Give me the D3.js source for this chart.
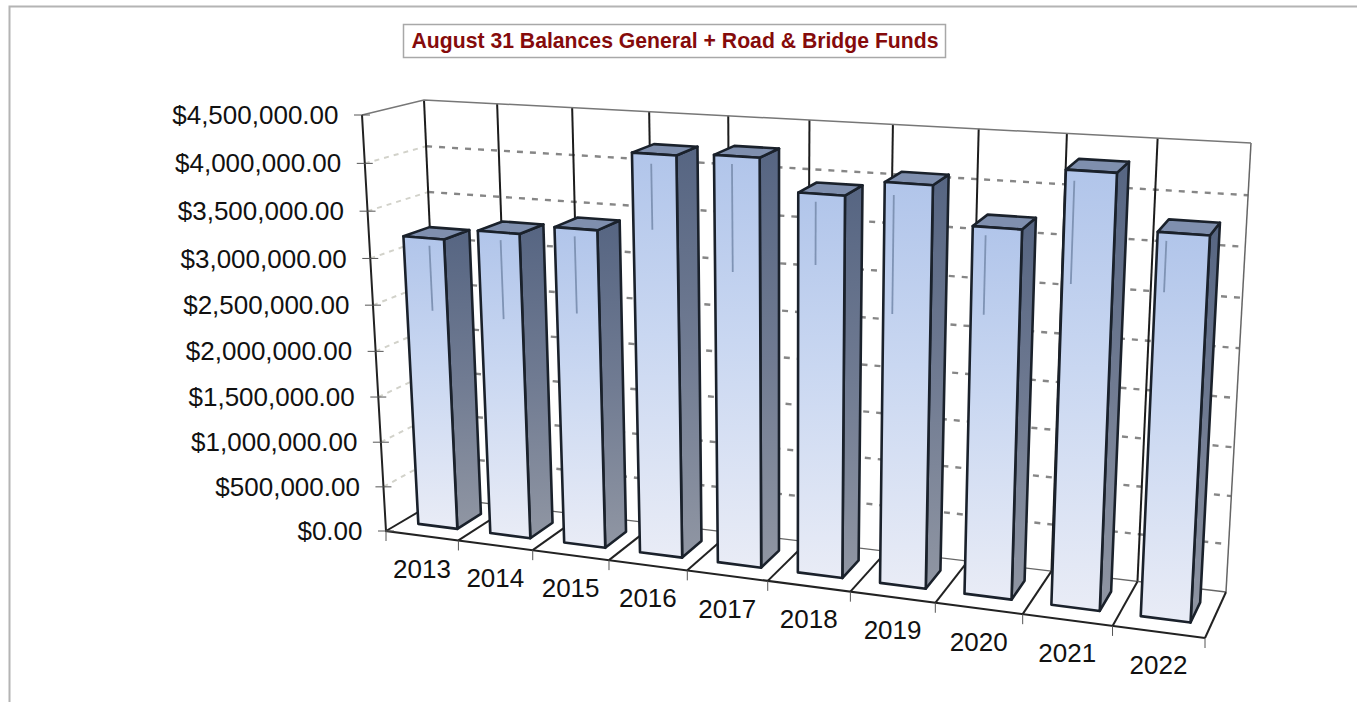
<!DOCTYPE html>
<html>
<head>
<meta charset="utf-8">
<style>
  html, body { margin: 0; padding: 0; background: #fff; }
  svg { display: block; }
  text { font-family: "Liberation Sans", Arial, sans-serif; fill: #111; }
</style>
</head>
<body>
<svg id="chart" width="1357" height="702"></svg>
<script src="https://cdn.jsdelivr.net/npm/d3@7"></script>
<script>
var years = [2013, 2014, 2015, 2016, 2017, 2018, 2019, 2020, 2021, 2022];
var balances = [3190000, 3310000, 3410000, 4230000, 4260000, 3940000, 4100000, 3730000, 4330000, 3800000];
// the thin grey streaks on the front of each bar
var streakTop = [3110000, 3230000, 3330000, 4130000, 4180000, 3860000, 3980000, 3650000, 4230000, 3720000];
var streakBottom = [2410000, 2390000, 2520000, 3460000, 3090000, 3230000, 2800000, 2870000, 3240000, 3230000];
var streakPos = [0.58, 0.53, 0.49, 0.47, 0.45, 0.44, 0.34, 0.38, 0.33, 0.33];
var valueTicks = [0, 500000, 1000000, 1500000, 2000000, 2500000, 3000000, 3500000, 4000000, 4500000];

var svg = d3.select("#chart");
var title = "August 31 Balances General + Road & Bridge Funds";

// Corners of the 3D box, as [x, y] on the page. f/b = front/back, l/r = left/right, 0/1 = floor/top
var box = {
  fl0: [386, 531], fr0: [1205, 638], bl0: [442, 498], br0: [1226, 592],
  fl1: [362, 115], fr1: [1229, 169], bl1: [424, 100], br1: [1251, 143]
};

// perspective squeeze along one axis
function warp(t, k) {
  return k * t / (1 + (k - 1) * t);
}

var xScale = d3.scaleLinear().domain([0, years.length]).range([0, 1]);
var yScale = d3.scaleLinear().domain([0, 4500000]).range([0, 1]);
var lerp = d3.interpolateNumber;

// i = category position, v = dollars, w = depth 0..1
function project(i, v, w) {
  var u = warp(xScale(i), 0.873);
  var t = warp(yScale(v), 0.95);
  function mix(k) {
    var f0 = lerp(box.fl0[k], box.fr0[k])(u), f1 = lerp(box.fl1[k], box.fr1[k])(u);
    var b0 = lerp(box.bl0[k], box.br0[k])(u), b1 = lerp(box.bl1[k], box.br1[k])(u);
    return lerp(lerp(f0, f1)(t), lerp(b0, b1)(t))(w);
  }
  return [mix(0), mix(1)];
}

var line = d3.line();
var n = years.length;
var maxValue = valueTicks[valueTicks.length - 1];
var money = d3.format("$,.2f");

// page frame
svg.append("path").attr("d", "M9.5,702V6.5H1357").attr("fill", "none")
  .attr("stroke", "#b4b4b4").attr("stroke-width", 2);

// gradients
var defs = svg.append("defs");
function gradient(id, stops) {
  var g = defs.append("linearGradient").attr("id", id)
    .attr("x1", 0).attr("x2", 0).attr("y1", 0).attr("y2", 1);
  stops.forEach(function(s) {
    g.append("stop").attr("offset", s[0]).attr("stop-color", s[1]);
  });
}
gradient("frontFill", [[0, "#b1c5ea"], [0.45, "#c9d7f1"], [1, "#e9ecf6"]]);
gradient("sideFill", [[0, "#566582"], [0.5, "#707b92"], [1, "#9096a3"]]);

// gridlines on the left wall and back wall
var grid = svg.append("g");
var inner = valueTicks.filter(function(v) { return v > 0 && v < maxValue; });
grid.selectAll(".wallGrid").data(inner).enter().append("path")
  .attr("class", "wallGrid")
  .attr("d", function(v) { return line([project(0, v, 0), project(0, v, 1)]); })
  .attr("fill", "none").attr("stroke", "#d2d2ca").attr("stroke-width", 2)
  .attr("stroke-dasharray", "5 5");
grid.selectAll(".backGrid").data(inner).enter().append("path")
  .attr("class", "backGrid")
  .attr("d", function(v) { return line([project(0, v, 1), project(n, v, 1)]); })
  .attr("fill", "none").attr("stroke", "#868686").attr("stroke-width", 2.4)
  .attr("stroke-dasharray", "6 7");

// back wall verticals
grid.selectAll(".backCol").data(d3.range(0, n + 1)).enter().append("path")
  .attr("class", "backCol")
  .attr("d", function(i) { return line([project(i, 0, 1), project(i, maxValue, 1)]); })
  .attr("fill", "none")
  .attr("stroke", function(i) { return i == n ? "#666" : "#1c1c1c"; })
  .attr("stroke-width", function(i) { return i == n ? 1.5 : 2; });

// top edge of the walls, back floor edge
grid.append("path")
  .attr("d", line([project(0, maxValue, 0), project(0, maxValue, 1), project(n, maxValue, 1)]))
  .attr("fill", "none").attr("stroke", "#777").attr("stroke-width", 1.5);
grid.append("path")
  .attr("d", line([project(0, 0, 1), project(n, 0, 1)]))
  .attr("fill", "none").attr("stroke", "#666").attr("stroke-width", 1.3);

// floor lines going back from each tick
grid.selectAll(".floorRow").data(d3.range(0, n + 1)).enter().append("path")
  .attr("class", "floorRow")
  .attr("d", function(i) { return line([project(i, 0, 0), project(i, 0, 1)]); })
  .attr("fill", "none").attr("stroke", "#222").attr("stroke-width", 2);

// bars
var barU = [0.235, 0.78], barW = [0.28, 0.72];
var bars = svg.selectAll(".bar").data(years).enter().append("g").attr("class", "bar");
var edge = { stroke: "#1a212b", width: 2.6 };

function face(sel, fill, pts) {
  sel.append("path")
    .attr("d", function(d, i) { return line(pts(i, balances[i])) + "Z"; })
    .attr("fill", fill).attr("stroke", edge.stroke).attr("stroke-width", edge.width)
    .attr("stroke-linejoin", "round");
}
face(bars, "url(#sideFill)", function(i, v) {
  return [project(i + barU[1], 0, barW[0]), project(i + barU[1], v, barW[0]),
          project(i + barU[1], v, barW[1]), project(i + barU[1], 0, barW[1])];
});
face(bars, "#7f8fae", function(i, v) {
  return [project(i + barU[0], v, barW[0]), project(i + barU[1], v, barW[0]),
          project(i + barU[1], v, barW[1]), project(i + barU[0], v, barW[1])];
});
face(bars, "url(#frontFill)", function(i, v) {
  return [project(i + barU[0], 0, barW[0]), project(i + barU[1], 0, barW[0]),
          project(i + barU[1], v, barW[0]), project(i + barU[0], v, barW[0])];
});
bars.append("path")
  .attr("d", function(d, i) {
    return line([project(i + streakPos[i], streakTop[i], barW[0]),
                 project(i + streakPos[i], streakBottom[i], barW[0])]);
  })
  .attr("fill", "none").attr("stroke", "#7f93b4").attr("stroke-width", 1.8);

// front axis lines, drawn over the floor
var axes = svg.append("g");
axes.append("path")
  .attr("d", line([project(0, maxValue, 0), project(0, 0, 0), project(n, 0, 0)]))
  .attr("fill", "none").attr("stroke", "#222").attr("stroke-width", 2);

// value axis ticks + labels
axes.selectAll(".yTick").data(valueTicks).enter().append("path")
  .attr("class", "yTick")
  .attr("d", function(v) {
    var p = project(0, v, 0);
    return line([[p[0] - 8, p[1]], [p[0] + 8, p[1]]]);
  })
  .attr("stroke", "#555").attr("stroke-width", 1);
axes.selectAll(".yLabel").data(valueTicks).enter().append("text")
  .attr("class", "yLabel")
  .attr("x", function(v) { return project(0, v, 0)[0] - 23.5; })
  .attr("y", function(v) { return project(0, v, 0)[1]; })
  .attr("dy", "0.35em").attr("text-anchor", "end")
  .attr("font-size", 26)
  .text(function(v) { return money(v); });

// category ticks + labels
axes.selectAll(".xTick").data(d3.range(0, n + 1)).enter().append("path")
  .attr("class", "xTick")
  .attr("d", function(i) {
    var p = project(i, 0, 0);
    return line([p, [p[0], p[1] + 10]]);
  })
  .attr("stroke", "#555").attr("stroke-width", 1);
axes.selectAll(".xLabel").data(years).enter().append("text")
  .attr("class", "xLabel")
  .attr("x", function(d, i) { return project(i + 0.5, 0, 0)[0]; })
  .attr("y", function(d, i) { return project(i + 0.5, 0, 0)[1] + 33; })
  .attr("dy", "0.35em").attr("text-anchor", "middle")
  .attr("font-size", 26)
  .text(function(d) { return d; });

// title box
svg.append("rect").attr("x", 403.5).attr("y", 24.5).attr("width", 542).attr("height", 33)
  .attr("fill", "#fff").attr("stroke", "#a8a8a8").attr("stroke-width", 1.5);
svg.append("text").attr("x", 675).attr("y", 41).attr("dy", "0.35em")
  .attr("text-anchor", "middle").attr("font-size", 21.2).attr("font-weight", "bold")
  .style("fill", "#850b0b").text(title);
</script>
</body>
</html>
